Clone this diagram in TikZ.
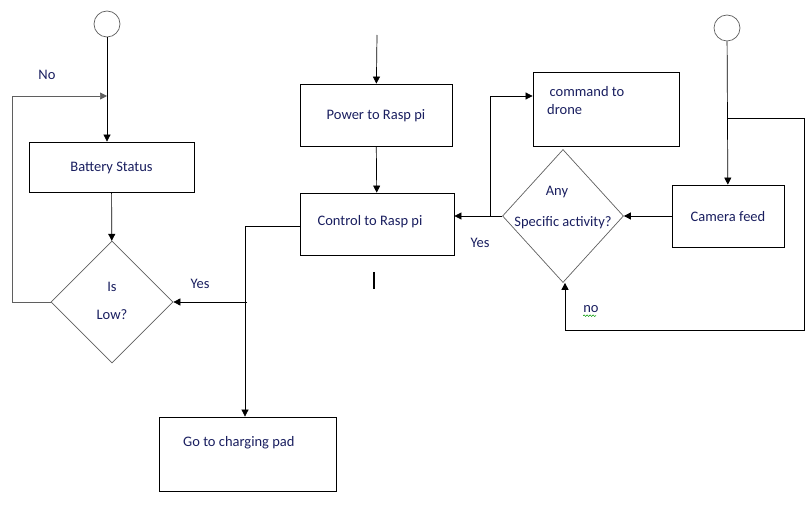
\documentclass[tikz,border=0pt]{standalone}
\usepackage{fontspec}
\setmainfont{Carlito}
\usetikzlibrary{shapes.geometric}
\usetikzlibrary{arrows.meta}
\usetikzlibrary{decorations.pathmorphing}
\definecolor{inkblue}{RGB}{25,30,95}
\definecolor{edgegray}{RGB}{95,95,95}
\tikzset{
    stepbox/.style={
        draw, rectangle, inner sep=0pt, line width=0.8pt
    },
    decision/.style={
        draw=edgegray, diamond, inner sep=0pt, line width=0.7pt
    },
    startnode/.style={
        draw=edgegray, circle, minimum size=26pt, inner sep=0pt, line width=0.7pt
    },
    txt/.style={
        font=\fontsize{14.5}{18}\selectfont, text=inkblue, inner sep=0pt, text depth=0pt
    },
    arr/.style={
        -{Triangle[length=7pt,width=7pt]}, line width=0.7pt
    }
}

\begin{document}
\begin{tikzpicture}[x=1pt,y=-1pt]
\useasboundingbox (0,0) rectangle (812,513);

% 节点
\node[startnode] (s1) at (107,24) {};
\node[stepbox, txt, minimum width=165pt, minimum height=50pt] (bat) at (111.5,167) {Battery Status};
\node[decision, minimum width=122pt, minimum height=122pt] (low) at (112,302) {};
\node[txt] (lowa) at (112,287) {Is};
\node[txt] (lowb) at (112,315) {Low?};

\coordinate (in0) at (377,35);
\node[stepbox, txt, minimum width=152pt, minimum height=62pt] (pow) at (376,115) {Power to Rasp pi};
\node[stepbox, minimum width=154pt, minimum height=62pt] (ctl) at (377,224) {};
\node[txt] (ctlt) at (370,220) {Control to Rasp pi};
\node[stepbox, minimum width=177pt, minimum height=74pt] (pad) at (247.5,454) {};
\node[txt, anchor=west] (padt) at (183,441) {Go to charging pad};

\node[startnode] (s2) at (727,28) {};
\node[stepbox, minimum width=146pt, minimum height=74pt] (cmd) at (606,109) {};
\node[txt, anchor=west, align=left] (cmdt) at (547,100) {\,command to\\drone};
\node[stepbox, txt, minimum width=112pt, minimum height=62pt] (cam) at (728,216) {Camera feed};
\node[decision, minimum width=121pt, minimum height=133pt] (act) at (563,216) {};
\node[txt] (acta) at (557,191) {Any};
\node[txt] (actb) at (563,221) {Specific activity?};

% 边
\coordinate (nl) at (12,96);
\coordinate (nr) at (107,96);
\coordinate (yj) at (247,302);
\coordinate (cj) at (245,226);
\coordinate (yc) at (490,216);
\coordinate (yt) at (490,96);
\coordinate (r1) at (727,118);
\coordinate (r2) at (804,118);
\coordinate (r3) at (804,330);
\coordinate (r4) at (565,330);

\draw[arr] (s1) -- (s1 |- bat.north);
\draw[arr] (bat) -- (low);
\draw[arr, draw=edgegray] (low.west) -| (nl) -- (nr);
\draw[arr] (yj) -- (low.east);
\draw[arr] (cj -| ctl.west) -- (cj) -- (cj |- pad.north);
\draw[arr] (in0) -- (pow);
\draw[arr] (pow) -- (ctl);
\draw[arr] (s2) -- (cam);
\draw[arr] (cam) -- (act);
\draw[arr] (act.west) -- (act.west -| ctl.east);
\draw[arr] (yc) -- (yt) -- (yt -| cmd.west);
\draw[arr] (r1) -- (r2) -- (r3) -- (r4) -- (r4 |- act.south);

% 标签
\node[txt] (no1) at (47,75) {No};
\node[txt] (yes1) at (200,284) {Yes};
\node[txt] (yes2) at (480,243) {Yes};
\node[txt] (no2) at (591,309) {no};
\draw[green!60!black, line width=0.5pt, decorate,
      decoration={snake, amplitude=0.8pt, segment length=3pt}]
      (no2.south west) ++(0,3) -- ++(13,0);
\draw[line width=1.6pt] (374,272) -- (374,289);
\end{tikzpicture}
\end{document}
